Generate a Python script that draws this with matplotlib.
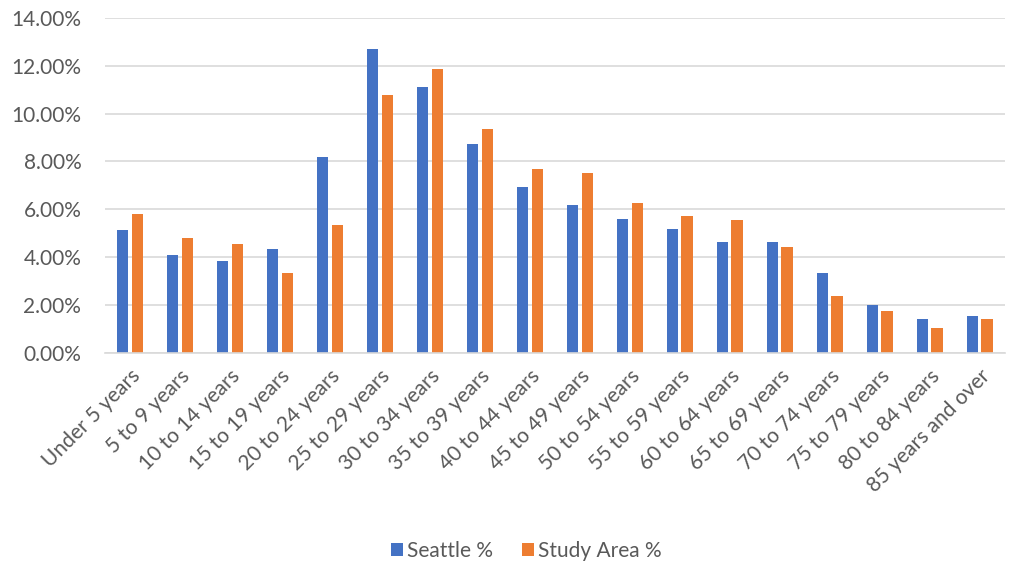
import matplotlib
matplotlib.use("Agg")
import matplotlib.pyplot as plt
import numpy as np
from matplotlib.ticker import FuncFormatter, MultipleLocator

categories = ["Under 5 years", "5 to 9 years", "10 to 14 years", "15 to 19 years",
              "20 to 24 years", "25 to 29 years", "30 to 34 years", "35 to 39 years",
              "40 to 44 years", "45 to 49 years", "50 to 54 years", "55 to 59 years",
              "60 to 64 years", "65 to 69 years", "70 to 74 years", "75 to 79 years",
              "80 to 84 years", "85 years and over"]
seattle_pct = [5.12, 4.08, 3.86, 4.36, 8.20, 12.71, 11.09, 8.73, 6.92,
               6.17, 5.60, 5.19, 4.64, 4.62, 3.34, 2.00, 1.41, 1.54]
study_area_pct = [5.80, 4.80, 4.54, 3.33, 5.33, 10.79, 11.85, 9.34, 7.67,
                  7.53, 6.28, 5.72, 5.54, 4.44, 2.37, 1.77, 1.03, 1.41]

plt.rcParams['font.family'] = ['Lato', 'DejaVu Sans']
text_color = "#595959"
grid_color = "#D9D9D9"
fs = 15

fig = plt.figure(figsize=(10.16, 5.65), dpi=100)
ax = fig.add_axes([0.1033, 0.375, 0.8857, 0.5937])

x = np.arange(len(categories))
w = 0.225
ax.bar(x - 0.145, seattle_pct, width=w, color="#4472C4", label="Seattle %", zorder=3)
ax.bar(x + 0.145, study_area_pct, width=w, color="#ED7D31", label="Study Area %", zorder=3)

ax.set_xlim(-0.5, len(categories) - 0.5)
ax.set_ylim(0, 14)
ax.yaxis.set_major_locator(MultipleLocator(2))
ax.yaxis.set_major_formatter(FuncFormatter(lambda v, p: f"{v:.2f}%"))
ax.grid(axis="y", color=grid_color, linewidth=1.2, zorder=0)

for side in ["top", "right", "left"]:
    ax.spines[side].set_visible(False)
ax.spines["bottom"].set_color(grid_color)
ax.spines["bottom"].set_linewidth(1.2)
ax.spines["bottom"].set_zorder(4)

ax.tick_params(axis="both", length=0, labelsize=fs, colors=text_color)
ax.tick_params(axis="y", pad=17)
ax.set_xticks(x)
ax.set_xticklabels(categories, rotation=45, ha="right", va="top",
                   rotation_mode="anchor")
ax.tick_params(axis="x", pad=9)
for lbl in ax.get_xticklabels():
    lbl.set_x(lbl.get_position()[0])

leg = fig.legend(loc="center", bbox_to_anchor=(0.518, 0.025), ncol=2, frameon=False,
                 fontsize=fs, handlelength=0.6, handleheight=0.6,
                 handletextpad=0.2, columnspacing=1.35)
for t in leg.get_texts():
    t.set_color(text_color)

fig.savefig("out.png", dpi=100, facecolor="white")
